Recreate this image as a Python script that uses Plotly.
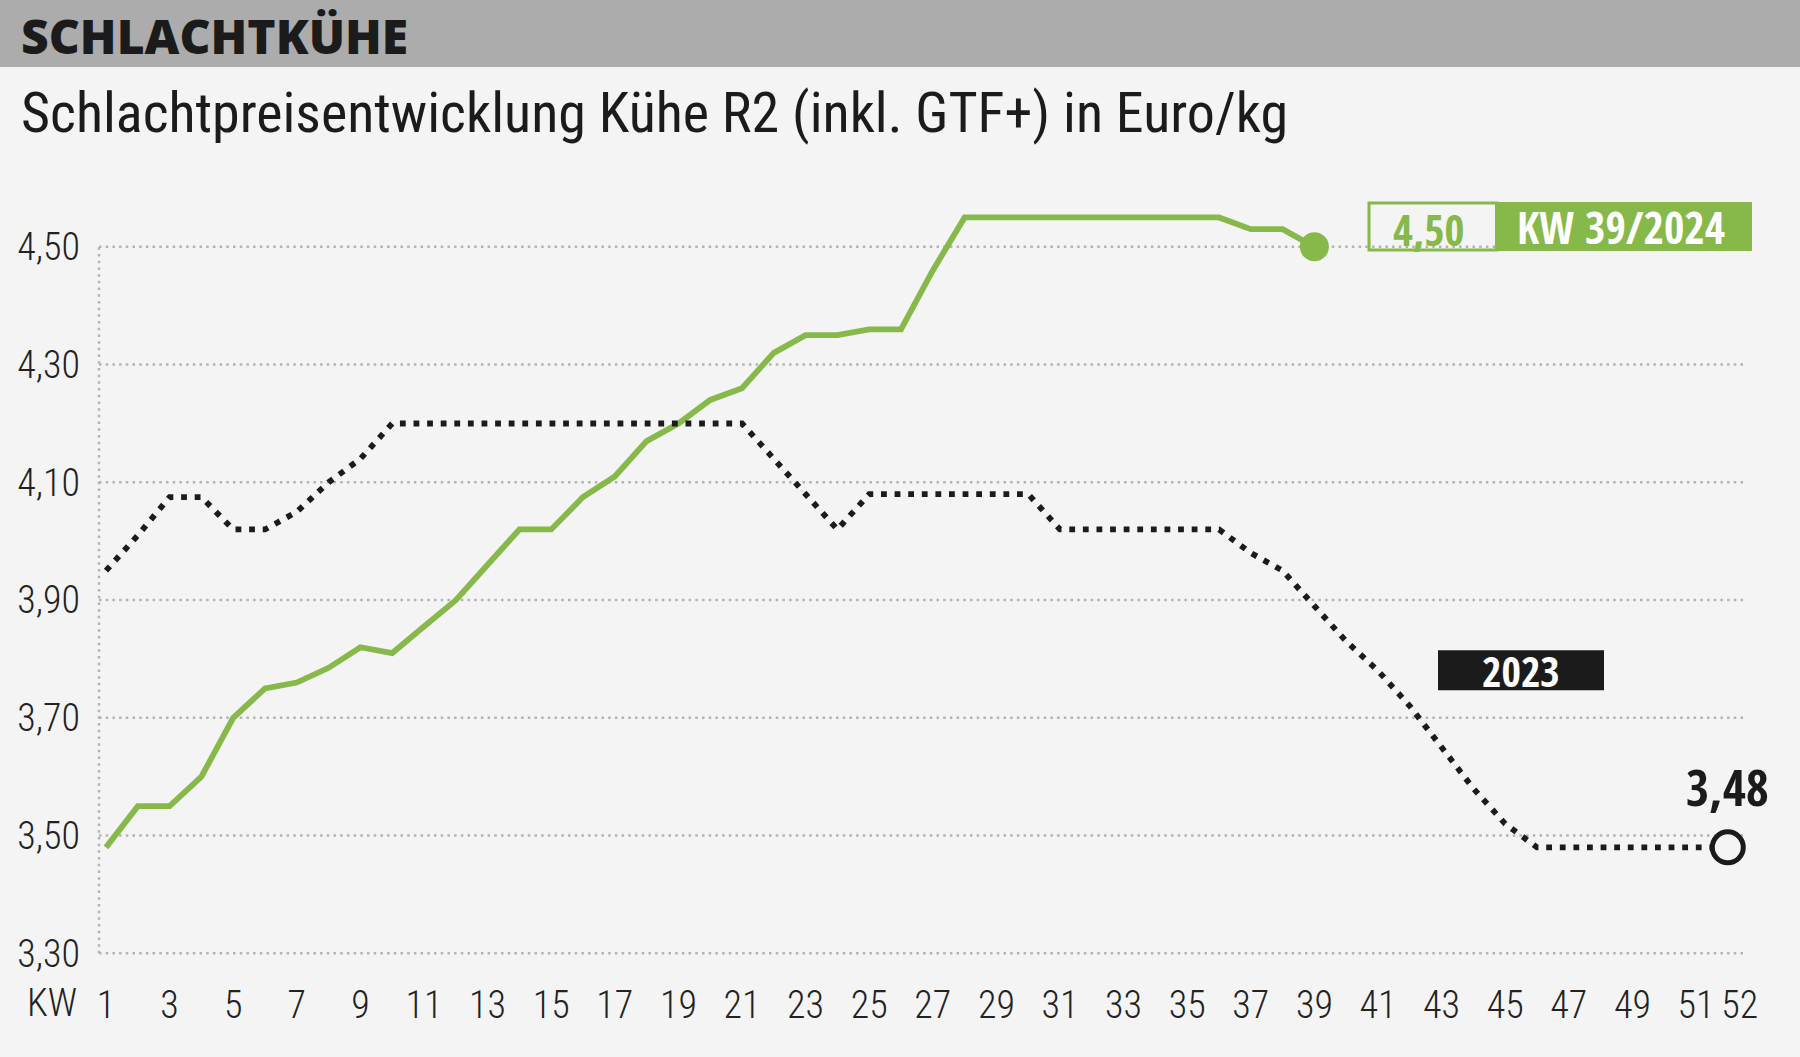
import plotly.graph_objects as go

# ---------------- data ----------------
weeks_2024 = list(range(1, 40))
price_2024 = [3.48, 3.55, 3.55, 3.60, 3.70, 3.75, 3.76, 3.785, 3.82, 3.81,
              3.855, 3.90, 3.96, 4.02, 4.02, 4.075, 4.11, 4.17, 4.20, 4.24,
              4.26, 4.32, 4.35, 4.35, 4.36, 4.36, 4.46, 4.55, 4.55, 4.55,
              4.55, 4.55, 4.55, 4.55, 4.55, 4.55, 4.53, 4.53, 4.50]

weeks_2023 = list(range(1, 53))
price_2023 = [3.95, 4.01, 4.075, 4.075, 4.02, 4.02, 4.05, 4.10, 4.14, 4.20,
              4.20, 4.20, 4.20, 4.20, 4.20, 4.20, 4.20, 4.20, 4.20, 4.20,
              4.20, 4.14, 4.08, 4.02, 4.08, 4.08, 4.08, 4.08, 4.08, 4.08,
              4.02, 4.02, 4.02, 4.02, 4.02, 4.02, 3.98, 3.95, 3.89, 3.83,
              3.78, 3.72, 3.65, 3.58, 3.52, 3.48, 3.48, 3.48, 3.48, 3.48,
              3.48, 3.48]

x_tick_vals = list(range(1, 52, 2))
x_tick_text = [str(v) for v in x_tick_vals]
x_last_tick = 52
y_tick_vals = [3.30, 3.50, 3.70, 3.90, 4.10, 4.30, 4.50]

title_text = "SCHLACHTKÜHE"
subtitle_text = "Schlachtpreisentwicklung Kühe R2 (inkl. GTF+) in Euro/kg"
label_2023 = "2023"

# ---------------- style / layout ----------------
W, H = 1800, 1057
L, R, T, B = 99, 30, 188, 86.3
PW, PH = W - L - R, H - T - B
PX_PER_WEEK = 31.8
X_RANGE = [1 - 7 / PX_PER_WEEK, 1 + (PW - 7) / PX_PER_WEEK]

GREEN = "#86b84a"
BLACK = "#1b1b1b"
BG = "#f4f4f4"
GRID = "#b3b3b3"
TXT = "#222222"
FONT = "Roboto Condensed, DejaVu Sans Condensed, sans-serif"
FONT_B = "Open Sans Condensed, Roboto Condensed, sans-serif"
FONT_T = "Open Sans, DejaVu Sans, sans-serif"


def px(xp):
    return (xp - L) / PW


def py(yp):
    return (H - B - yp) / PH


def fmt(v):
    return f"{v:.2f}".replace(".", ",")


fig = go.Figure()

fig.add_trace(go.Scatter(
    x=weeks_2024, y=price_2024, mode="lines",
    line=dict(color=GREEN, width=5.8), hoverinfo="skip"))

fig.add_trace(go.Scatter(
    x=weeks_2023, y=price_2023, mode="lines",
    line=dict(color=BLACK, width=5.8, dash="5.8px,7.8px"), hoverinfo="skip"))

fig.add_trace(go.Scatter(
    x=[weeks_2024[-1]], y=[price_2024[-1]], mode="markers", cliponaxis=False,
    marker=dict(size=29, color=GREEN, line=dict(width=0)), hoverinfo="skip"))

fig.add_trace(go.Scatter(
    x=[weeks_2023[-1]], y=[price_2023[-1]], mode="markers", cliponaxis=False,
    marker=dict(size=31, color=BG, line=dict(width=5, color=BLACK)),
    hoverinfo="skip"))

# empty trace so the overlaying axis for the last week label is drawn
fig.add_trace(go.Scatter(x=[], y=[], xaxis="x2", yaxis="y", hoverinfo="skip"))

shapes = []
shapes.append(dict(type="rect", xref="paper", yref="paper",
                   x0=px(0), x1=px(W), y0=py(67), y1=py(0),
                   fillcolor="#acacac", line=dict(width=0), layer="below"))
for v in y_tick_vals:
    shapes.append(dict(type="line", xref="paper", yref="y",
                       x0=0, x1=px(1743), y0=v, y1=v,
                       line=dict(color=GRID, width=2.5, dash="2.5px,4.2px"),
                       layer="below"))
shapes.append(dict(type="line", xref="paper", yref="y",
                   x0=0, x1=0, y0=min(y_tick_vals), y1=max(y_tick_vals),
                   line=dict(color=GRID, width=2.5, dash="2.5px,4.2px"),
                   layer="below"))
shapes.append(dict(type="rect", xref="paper", yref="paper",
                   x0=px(1369), x1=px(1497), y0=py(250), y1=py(203),
                   fillcolor="rgba(0,0,0,0)", line=dict(color=GREEN, width=3),
                   layer="above"))
shapes.append(dict(type="rect", xref="paper", yref="paper",
                   x0=px(1496), x1=px(1751), y0=py(250), y1=py(203),
                   fillcolor=GREEN, line=dict(color=GREEN, width=2),
                   layer="above"))
shapes.append(dict(type="rect", xref="paper", yref="paper",
                   x0=px(1438), x1=px(1604), y0=py(690), y1=py(650),
                   fillcolor=BLACK, line=dict(width=0), layer="above"))

annotations = [
    dict(text=title_text, xref="paper", yref="paper",
         x=px(19), y=py(36), xanchor="left", yanchor="middle", showarrow=False,
         font=dict(family=FONT_T, size=48, color=BLACK, weight=800)),
    dict(text=subtitle_text, xref="paper", yref="paper",
         x=px(19), y=py(113), xanchor="left", yanchor="middle", showarrow=False,
         font=dict(family=FONT, size=56, color=BLACK)),
    dict(text="KW", xref="paper", yref="paper",
         x=px(52), y=py(1003), xanchor="center", yanchor="middle",
         showarrow=False, font=dict(family=FONT, size=38, color=TXT, weight=300)),
    dict(text=f"<b>{fmt(price_2024[-1])}</b>", xref="paper", yref="paper",
         x=px(1428), y=py(229), xanchor="center", yanchor="middle",
         showarrow=False, font=dict(family=FONT_B, size=43, color=GREEN)),
    dict(text=f"<b>KW {weeks_2024[-1]}/2024</b>", xref="paper", yref="paper",
         x=px(1621), y=py(227), xanchor="center", yanchor="middle",
         showarrow=False, font=dict(family=FONT_B, size=44, color="white")),
    dict(text=f"<b>{label_2023}</b>", xref="paper", yref="paper",
         x=px(1521), y=py(670), xanchor="center", yanchor="middle",
         showarrow=False, font=dict(family=FONT_B, size=42, color="white")),
    dict(text=f"<b>{fmt(price_2023[-1])}</b>", xref="x", yref="y",
         x=weeks_2023[-1], y=price_2023[-1], yshift=60,
         xanchor="center", yanchor="middle", showarrow=False,
         font=dict(family=FONT_B, size=50, color=BLACK)),
]

tickfont = dict(family=FONT, size=38, color=TXT, weight=300)

fig.update_layout(
    width=W, height=H,
    margin=dict(l=L, r=R, t=T, b=B, pad=0),
    paper_bgcolor=BG, plot_bgcolor=BG,
    showlegend=False,
    separators=", ",
    shapes=shapes,
    annotations=annotations,
    xaxis=dict(range=X_RANGE, tickvals=x_tick_vals, ticktext=x_tick_text,
               tickangle=0, showgrid=False, zeroline=False, showline=False,
               ticks="", ticklabelstandoff=8, tickfont=tickfont),
    xaxis2=dict(range=X_RANGE, overlaying="x", anchor="y", side="bottom",
                tickvals=[x_last_tick], ticktext=[str(x_last_tick)],
                tickangle=0, showgrid=False, zeroline=False, showline=False,
                ticks="", ticklabelstandoff=8, ticklabelshift=12,
                tickfont=tickfont),
    yaxis=dict(range=[3.27, 4.60], tickvals=y_tick_vals, tickformat=".2f",
               showgrid=False, zeroline=False, showline=False, ticks="",
               ticklabelstandoff=18, tickfont=tickfont),
)

fig.write_html("out.html", config={"displayModeBar": False},
               post_script="document.body.style.margin='0';")
